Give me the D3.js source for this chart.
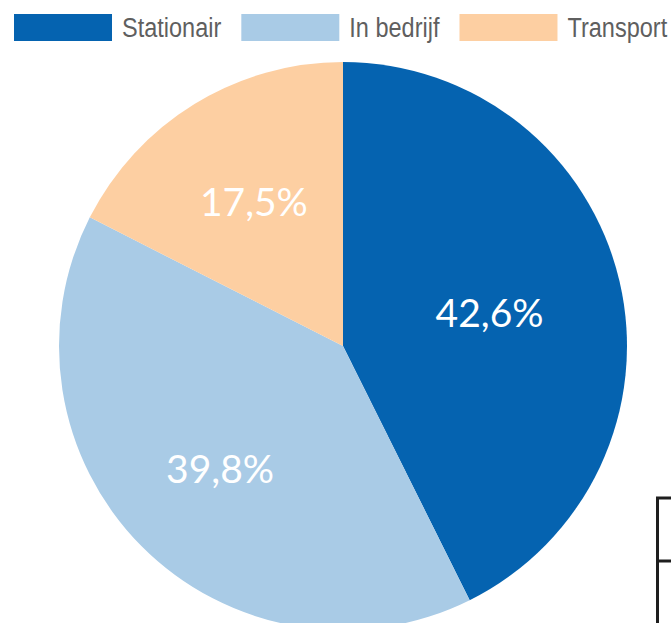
<!DOCTYPE html>
<html>
<head>
<meta charset="utf-8">
<script src="https://cdn.jsdelivr.net/npm/d3@7/dist/d3.min.js"></script>
<style>
  html, body { margin: 0; padding: 0; background: #ffffff; }
  svg { display: block; }
</style>
</head>
<body>
<svg id="chart" width="671" height="623"></svg>
<script>
// Energy share per phase (percent)
const categories = ["Stationair", "In bedrijf", "Transport"];
const values = [42.6, 39.8, 17.5];
const labels = ["42,6%", "39,8%", "17,5%"];
const colors = ["#0563b0", "#a9cbe6", "#fdcfa2"];

const width = 671, height = 623;
const cx = 343, cy = 346, radius = 284;

const svg = d3.select("#chart");

// Pie slices, clockwise from 12 o'clock, in data order
const pie = d3.pie().sort(null).value(d => d.value);
const arcs = pie(categories.map((c, i) => ({ name: c, value: values[i], label: labels[i] })));

const arc = d3.arc().innerRadius(0).outerRadius(radius);
const color = d3.scaleOrdinal().domain(categories).range(colors);

const g = svg.append("g").attr("transform", `translate(${cx},${cy})`);

g.selectAll("path.slice")
  .data(arcs)
  .join("path")
  .attr("class", "slice")
  .attr("d", arc)
  .attr("fill", d => color(d.data.name));

// Data labels placed along each slice's bisector
const labelRadiusFrac = { "Stationair": 0.53, "In bedrijf": 0.61, "Transport": 0.60 };
g.selectAll("text.value")
  .data(arcs)
  .join("text")
  .attr("class", "value")
  .attr("transform", d => {
    const r = radius * labelRadiusFrac[d.data.name];
    const a = (d.startAngle + d.endAngle) / 2;
    return `translate(${r * Math.sin(a)},${-r * Math.cos(a)})`;
  })
  .attr("text-anchor", "middle")
  .attr("dominant-baseline", "central")
  .attr("font-family", "Lato, 'Open Sans', sans-serif")
  .attr("font-size", 39)
  .attr("fill", "#ffffff")
  .text(d => d.data.label);

// Legend across the top, with a condensed label face
const squeeze = 0.84;
const legend = svg.append("g").attr("transform", "translate(14,14)");
let x = 0;
categories.forEach((c, i) => {
  const item = legend.append("g").attr("transform", `translate(${x},0)`);
  item.append("rect")
    .attr("width", 98).attr("height", 27)
    .attr("fill", color(c));
  const t = item.append("text")
    .attr("transform", `translate(108,13.5) scale(${squeeze},1)`)
    .attr("dominant-baseline", "central")
    .attr("font-family", "'Liberation Sans', Arial, sans-serif")
    .attr("font-size", 28)
    .attr("fill", "#5f5f5f")
    .text(c);
  x += 108 + t.node().getComputedTextLength() * squeeze + 20;
});

// Edge of the neighbouring table
const box = svg.append("g").attr("stroke", "#1e1e1e").attr("stroke-width", 3).attr("fill", "none");
box.append("path").attr("d", "M657.5,623 V498 H671");
box.append("path").attr("d", "M657.5,561 H671");
</script>
</body>
</html>
